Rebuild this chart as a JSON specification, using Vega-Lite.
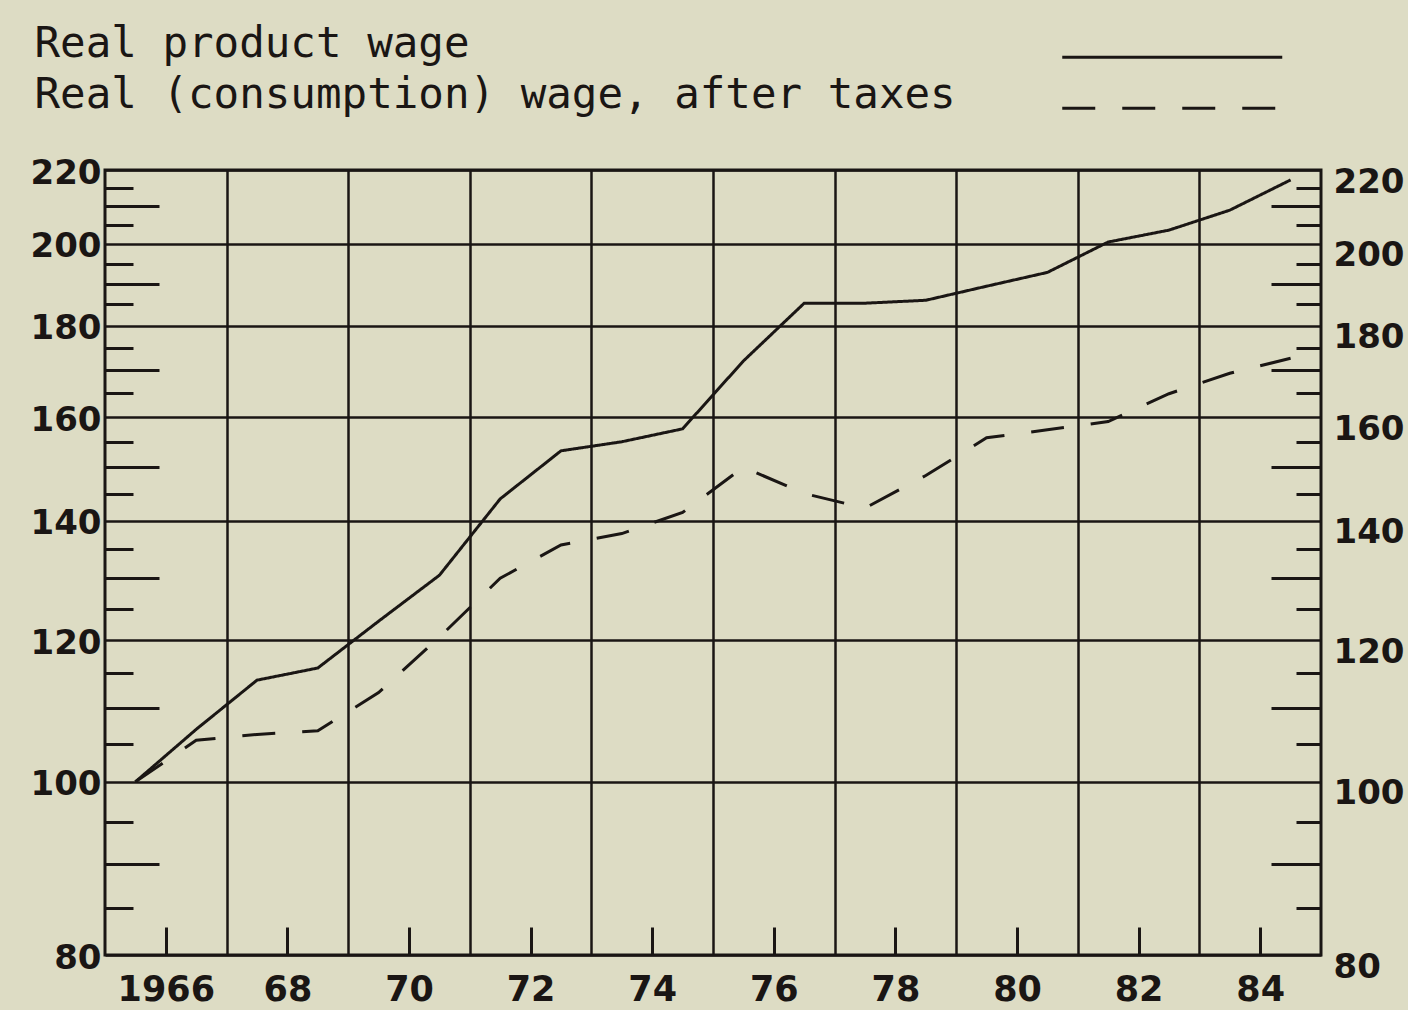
{
  "$schema": "https://vega.github.io/schema/vega-lite/v6.json",
  "width": 1216,
  "height": 785,
  "autosize": {"type": "none"},
  "padding": {"left": 105, "top": 170, "right": 87, "bottom": 55},
  "background": "#dddcc4",
  "config": {
    "view": {"stroke": "#1a1614", "strokeWidth": 3},
    "axis": {
      "gridColor": "#1a1614", "gridOpacity": 1, "gridWidth": 2.5,
      "tickColor": "#1a1614", "tickWidth": 3, "tickOpacity": 1,
      "labelColor": "#1a1614", "labelFont": "DejaVu Sans", "labelFontSize": 34, "labelFontWeight": "bold",
      "labelOverlap": false, "labelFlush": false, "domain": false
    }
  },
  "data": {"values": [
    {"t": 1965.5, "series": "Real product wage", "index": 100},
    {"t": 1966.5, "series": "Real product wage", "index": 107},
    {"t": 1967.5, "series": "Real product wage", "index": 114},
    {"t": 1968.5, "series": "Real product wage", "index": 115.8},
    {"t": 1969.5, "series": "Real product wage", "index": 123},
    {"t": 1970.5, "series": "Real product wage", "index": 130.5},
    {"t": 1971.5, "series": "Real product wage", "index": 144},
    {"t": 1972.5, "series": "Real product wage", "index": 153.2},
    {"t": 1973.5, "series": "Real product wage", "index": 155},
    {"t": 1974.5, "series": "Real product wage", "index": 157.6},
    {"t": 1975.5, "series": "Real product wage", "index": 172},
    {"t": 1976.5, "series": "Real product wage", "index": 185.3},
    {"t": 1977.5, "series": "Real product wage", "index": 185.3},
    {"t": 1978.5, "series": "Real product wage", "index": 186},
    {"t": 1979.5, "series": "Real product wage", "index": 189.4},
    {"t": 1980.5, "series": "Real product wage", "index": 192.8},
    {"t": 1981.5, "series": "Real product wage", "index": 200.5},
    {"t": 1982.5, "series": "Real product wage", "index": 203.6},
    {"t": 1983.5, "series": "Real product wage", "index": 208.9},
    {"t": 1984.5, "series": "Real product wage", "index": 217.2},
    {"t": 1965.5, "series": "Real (consumption) wage, after taxes", "index": 100},
    {"t": 1966.5, "series": "Real (consumption) wage, after taxes", "index": 105.5},
    {"t": 1967.5, "series": "Real (consumption) wage, after taxes", "index": 106.3},
    {"t": 1968.5, "series": "Real (consumption) wage, after taxes", "index": 106.8},
    {"t": 1969.5, "series": "Real (consumption) wage, after taxes", "index": 112.2},
    {"t": 1970.5, "series": "Real (consumption) wage, after taxes", "index": 120.5},
    {"t": 1971.5, "series": "Real (consumption) wage, after taxes", "index": 130},
    {"t": 1972.5, "series": "Real (consumption) wage, after taxes", "index": 135.7},
    {"t": 1973.5, "series": "Real (consumption) wage, after taxes", "index": 137.7},
    {"t": 1974.5, "series": "Real (consumption) wage, after taxes", "index": 141.5},
    {"t": 1975.5, "series": "Real (consumption) wage, after taxes", "index": 150},
    {"t": 1976.5, "series": "Real (consumption) wage, after taxes", "index": 145},
    {"t": 1977.5, "series": "Real (consumption) wage, after taxes", "index": 142.3},
    {"t": 1978.5, "series": "Real (consumption) wage, after taxes", "index": 148.4},
    {"t": 1979.5, "series": "Real (consumption) wage, after taxes", "index": 155.8},
    {"t": 1980.5, "series": "Real (consumption) wage, after taxes", "index": 157.4},
    {"t": 1981.5, "series": "Real (consumption) wage, after taxes", "index": 159.1},
    {"t": 1982.5, "series": "Real (consumption) wage, after taxes", "index": 164.9},
    {"t": 1983.5, "series": "Real (consumption) wage, after taxes", "index": 169.3},
    {"t": 1984.5, "series": "Real (consumption) wage, after taxes", "index": 172.6}
  ]},
  "resolve": {"axis": {"x": "independent", "y": "independent"}},
  "layer": [
    {
      "mark": {"type": "line", "color": "#1a1614", "strokeWidth": 3},
      "encoding": {
        "x": {"field": "t", "type": "quantitative",
          "scale": {"domain": [1965, 1985], "nice": false, "zero": false},
          "axis": {"orient": "bottom", "title": null, "values": [1966, 1968, 1970, 1972, 1974, 1976, 1978, 1980, 1982, 1984],
            "labelExpr": "datum.value == 1966 ? '1966' : '' + (datum.value - 1900)",
            "ticks": false, "grid": false, "labelPadding": 17, "labelFontSize": 35}},
        "y": {"field": "index", "type": "quantitative",
          "scale": {"type": "log", "domain": [80, 220], "nice": false, "zero": false},
          "axis": {"orient": "left", "title": null, "values": [80, 100, 120, 140, 160, 180, 200, 220], "format": "d",
            "ticks": false, "grid": true, "labelPadding": 4, "labelOffset": 3}},
        "strokeDash": {"field": "series", "type": "nominal",
          "scale": {"domain": ["Real product wage", "Real (consumption) wage, after taxes"], "range": [[1, 0], [33, 27]]},
          "legend": {"orient": "none", "legendX": 1046, "legendY": -134, "direction": "vertical", "title": null,
            "symbolType": "M-11,0H11", "symbolSize": 400, "symbolStrokeWidth": 3, "symbolStrokeColor": "#1a1614",
            "symbolOpacity": 1, "symbolFillColor": "transparent",
            "labelFont": "DejaVu Sans Mono", "labelFontSize": 42.5, "labelColor": "#1a1614",
            "labelLimit": 0, "labelOffset": -1159, "labelAlign": "left", "labelBaseline": "alphabetic",
            "rowPadding": 8, "padding": 0}}
      }
    },
    {
      "mark": {"type": "point", "opacity": 0},
      "encoding": {
        "x": {"field": "t", "type": "quantitative",
          "axis": {"orient": "bottom", "title": null, "values": [1966, 1968, 1970, 1972, 1974, 1976, 1978, 1980, 1982, 1984],
            "labels": false, "ticks": true, "tickSize": -28, "grid": false}},
        "y": {"field": "index", "type": "quantitative",
          "axis": {"orient": "left", "title": null, "values": [90, 110, 130, 150, 170, 190, 210],
            "labels": false, "ticks": true, "tickSize": -54, "grid": false}}
      }
    },
    {
      "mark": {"type": "point", "opacity": 0},
      "encoding": {
        "x": {"field": "t", "type": "quantitative",
          "axis": {"orient": "top", "title": null, "values": [1967, 1969, 1971, 1973, 1975, 1977, 1979, 1981, 1983],
            "labels": false, "ticks": false, "grid": true}},
        "y": {"field": "index", "type": "quantitative",
          "axis": {"orient": "left", "title": null, "values": [85, 95, 105, 115, 125, 135, 145, 155, 165, 175, 185, 195, 205, 215],
            "labels": false, "ticks": true, "tickSize": -28, "grid": false}}
      }
    },
    {
      "mark": {"type": "point", "opacity": 0},
      "encoding": {
        "x": {"field": "t", "type": "quantitative", "axis": null},
        "y": {"field": "index", "type": "quantitative",
          "axis": {"orient": "right", "title": null, "values": [80, 100, 120, 140, 160, 180, 200, 220], "format": "d",
            "ticks": false, "grid": false, "labelPadding": 12, "labelOffset": 12}}
      }
    },
    {
      "mark": {"type": "point", "opacity": 0},
      "encoding": {
        "x": {"field": "t", "type": "quantitative", "axis": null},
        "y": {"field": "index", "type": "quantitative",
          "axis": {"orient": "right", "title": null, "values": [90, 110, 130, 150, 170, 190, 210],
            "labels": false, "ticks": true, "tickSize": -50, "grid": false}}
      }
    },
    {
      "mark": {"type": "point", "opacity": 0},
      "encoding": {
        "x": {"field": "t", "type": "quantitative", "axis": null},
        "y": {"field": "index", "type": "quantitative",
          "axis": {"orient": "right", "title": null, "values": [85, 95, 105, 115, 125, 135, 145, 155, 165, 175, 185, 195, 205, 215],
            "labels": false, "ticks": true, "tickSize": -25, "grid": false}}
      }
    }
  ]
}
